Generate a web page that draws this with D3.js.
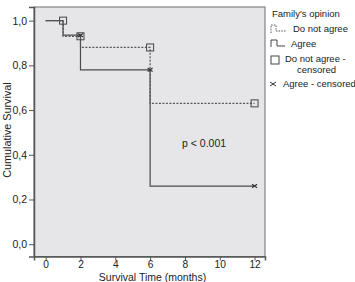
<!DOCTYPE html>
<html>
<head>
<meta charset="utf-8">
<script src="https://cdn.jsdelivr.net/npm/d3@7"></script>
<style>
  body { margin: 0; background: #fff; }
  text { font-family: Arial, "Liberation Sans", sans-serif; fill: #222; }
</style>
</head>
<body>
<script>
// Data
var notAgreeTimes = [0, 1, 2, 6, 12];
var notAgreeSurv = [1.0, 0.93, 0.88, 0.63, 0.63];
var notAgreeCensT = [1, 2, 6, 12];
var notAgreeCensS = [1.0, 0.93, 0.88, 0.63];

var agreeTimes = [0, 1, 2, 6, 12];
var agreeSurv = [1.0, 0.935, 0.78, 0.26, 0.26];
var agreeCensT = [2, 6, 12];
var agreeCensS = [0.935, 0.78, 0.26];

var xTicks = [0, 2, 4, 6, 8, 10, 12];
var yTicks = [0, 0.2, 0.4, 0.6, 0.8, 1.0];

var width = 355, height = 282;
var plot = {left: 34, top: 7, right: 265, bottom: 256.5};

var svg = d3.select("body").append("svg")
    .attr("width", width)
    .attr("height", height);

var x = d3.scaleLinear().domain([-0.67, 12.6]).range([plot.left, plot.right]);
var y = d3.scaleLinear().domain([-0.055, 1.061]).range([plot.bottom, plot.top]);

// plot background
svg.append("rect")
    .attr("x", plot.left).attr("y", plot.top)
    .attr("width", plot.right - plot.left)
    .attr("height", plot.bottom - plot.top)
    .attr("fill", "#e6e6e8")
    .attr("stroke", "#6e6e6e")
    .attr("stroke-width", 1);

// axes
var fmt = function(d) { return d3.format(".1f")(d).replace(".", ","); };
var yAxis = svg.append("g")
    .attr("transform", "translate(" + plot.left + ",0)")
    .call(d3.axisLeft(y).tickValues(yTicks).tickFormat(fmt).tickSize(5).tickPadding(2));
var xAxis = svg.append("g")
    .attr("transform", "translate(0," + plot.bottom + ")")
    .call(d3.axisBottom(x).tickValues(xTicks).tickSize(4).tickPadding(0.5));
[xAxis, yAxis].forEach(function(a) {
  a.select(".domain").attr("stroke", "#555").attr("stroke-width", 1.5);
  a.selectAll(".tick line").attr("stroke", "#555");
  a.selectAll("text").attr("font-size", 10.5).attr("fill", "#333")
    .attr("font-family", "Arial, 'Liberation Sans', sans-serif");
});
xAxis.selectAll("text").attr("font-size", 10.2);

// titles
svg.append("text")
    .attr("x", (plot.left + plot.right) / 2 + 3)
    .attr("y", 280.5)
    .attr("text-anchor", "middle")
    .attr("font-size", 10.5)
    .text("Survival Time (months)");
svg.append("text")
    .attr("transform", "translate(11," + 130 + ") rotate(-90)")
    .attr("text-anchor", "middle")
    .attr("font-size", 10.8)
    .text("Cumulative Survival");

// step curves
function stepPts(ts, ss) {
  return ts.map(function(t, i) { return [t, ss[i]]; });
}
var line = d3.line()
    .x(function(d) { return x(d[0]); })
    .y(function(d) { return y(d[1]); })
    .curve(d3.curveStepAfter);

svg.append("path")
    .datum(stepPts(agreeTimes, agreeSurv))
    .attr("d", line)
    .attr("fill", "none")
    .attr("stroke", "#4a4a4a")
    .attr("stroke-width", 1.2);

svg.append("path")
    .datum(stepPts(notAgreeTimes, notAgreeSurv))
    .attr("d", line)
    .attr("fill", "none")
    .attr("stroke", "#555")
    .attr("stroke-width", 1.2)
    .attr("stroke-dasharray", "2,1.5");

// censor markers
svg.append("g").selectAll("rect")
    .data(stepPts(notAgreeCensT, notAgreeCensS))
    .enter().append("rect")
    .attr("x", function(d) { return x(d[0]) - 3.5; })
    .attr("y", function(d) { return y(d[1]) - 3.5; })
    .attr("width", 7).attr("height", 7)
    .attr("fill", "none")
    .attr("stroke", "#444")
    .attr("stroke-width", 1);

svg.append("g").selectAll("path")
    .data(stepPts(agreeCensT, agreeCensS))
    .enter().append("path")
    .attr("d", function(d) {
      var cx = x(d[0]), cy = y(d[1]), r = 2.5;
      return "M" + (cx - r) + "," + (cy - r * 0.7) + "L" + (cx + r) + "," + (cy + r * 0.7) +
             "M" + (cx - r) + "," + (cy + r * 0.7) + "L" + (cx + r) + "," + (cy - r * 0.7);
    })
    .attr("stroke", "#333")
    .attr("stroke-width", 1.2);

// p-value
svg.append("text")
    .attr("x", 182).attr("y", 147)
    .attr("font-size", 10.5)
    .text("p < 0.001");

// legend
var lg = svg.append("g");
lg.append("text").attr("x", 272).attr("y", 17).attr("font-size", 9.5).text("Family's opinion");

lg.append("path")
    .attr("d", "M271,33 L271,25 L276,25 L276,31 L286,31")
    .attr("fill", "none").attr("stroke", "#555").attr("stroke-dasharray", "1.5,1.2");
lg.append("text").attr("x", 293).attr("y", 31.5).attr("font-size", 9.5).text("Do not agree");

lg.append("path")
    .attr("d", "M271,47 L271,40 L277,40 L277,46 L285,46")
    .attr("fill", "none").attr("stroke", "#444").attr("stroke-width", 1);
lg.append("text").attr("x", 291).attr("y", 46.5).attr("font-size", 9.5).text("Agree");

lg.append("rect").attr("x", 271).attr("y", 56).attr("width", 8).attr("height", 8)
    .attr("fill", "none").attr("stroke", "#444");
lg.append("text").attr("x", 285).attr("y", 61.5).attr("font-size", 9.5).text("Do not agree -");
lg.append("text").attr("x", 297).attr("y", 72.5).attr("font-size", 9.5).text("censored");

lg.append("path")
    .attr("d", "M270,82 L276,86 M270,86 L276,82")
    .attr("stroke", "#333").attr("stroke-width", 1);
lg.append("text").attr("x", 283).attr("y", 87).attr("font-size", 9.5).text("Agree - censored");
</script>
</body>
</html>
